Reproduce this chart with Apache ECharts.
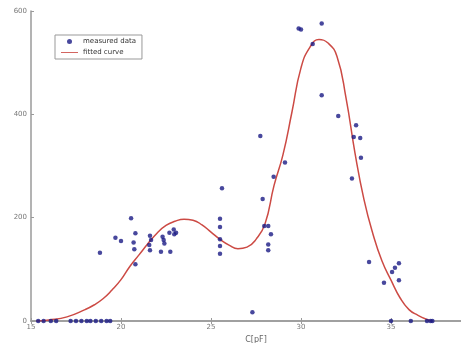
<!DOCTYPE html>
<html>
<head>
<meta charset="utf-8">
<script src="https://cdn.jsdelivr.net/npm/echarts@6/dist/echarts.min.js"></script>
<style>html,body{margin:0;padding:0;background:#fff;}#c{width:461px;height:343px;}</style>
</head>
<body>
<div id="c"></div>
<script>
// measured data
const measuredX = [15.4,15.7,16.1,16.4,17.2,17.5,17.8,18.1,18.3,18.6,18.9,19.2,19.4,
  18.83,19.69,20.0,20.56,20.8,20.7,20.74,20.8,21.61,21.67,21.57,21.61,22.22,22.74,22.31,22.37,22.41,22.69,22.93,23.06,22.96,
  25.5,25.5,25.5,25.5,25.5,25.61,27.3,27.74,27.87,27.96,28.18,28.33,28.18,28.18,28.48,29.11,
  29.87,30.0,31.15,30.65,31.15,32.07,33.06,32.93,33.29,33.33,32.83,
  33.78,35.44,35.22,35.06,34.61,35.44,35.0,36.1,37.0,37.2,37.3];
const measuredY = [0,0,0,0,0,0,0,0,0,0,0,0,0,
  132,161,155,199,170,152,139,110,165,157,147,137,134,134,163,157,150,171,177,171,168,
  198,182,158,145,130,257,17,358,236,184,184,168,148,137,279,307,
  566,564,576,536,437,397,379,356,354,316,276,
  114,112,103,95,74,79,0,0,0,0,0];
// fitted curve
const curveX = [15.3,16,17,18,18.5,19,19.5,20,20.5,21,21.5,22,22.5,23,23.5,24,24.5,25,25.5,26,26.5,27,27.5,28,28.5,29,29.5,30,30.5,31,31.5,32,32.5,33,33.5,34,34.5,35,35.5,36,36.5,37,37.3];
const curveY = [0,2,8,22,31,43,60,80,106,128,150,170,185,193,197,195,186,172,158,147,140,143,158,188,262,322,405,490,530,545,538,512,432,325,235,168,116,79,45,22,11,3,0];
const xTicks = [15,20,25,30,35,40];
const yTicks = [0,200,400,600];

const chart = echarts.init(document.getElementById('c'), null, {renderer:'canvas'});
const axisCol = '#9a9a9a';
const lblStyle = {color:'#777', fontSize:7, fontFamily:'DejaVu Sans'};
chart.setOption({
  animation:false,
  backgroundColor:'#fff',
  grid:{left:31, top:11, width:450, height:310, outerBoundsMode:'none'},
  legend:{
    left:55, top:35, orient:'vertical', itemWidth:17, itemHeight:5, itemGap:4,
    padding:[3,6,3,6], borderColor:'#999', borderWidth:1, backgroundColor:'#fff',
    textStyle:{fontSize:7, color:'#333', fontFamily:'DejaVu Sans'},
    data:[{name:'measured data', icon:'circle'},{name:'fitted curve', icon:'path://M0,0 H40 V2 H0 Z'}]
  },
  xAxis:[{
    type:'value', min:xTicks[0], max:xTicks[xTicks.length-1], interval:5,
    name:'C[pF]', nameLocation:'middle', nameGap:11,
    nameTextStyle:{fontSize:8, color:'#666', fontFamily:'DejaVu Sans'},
    axisLine:{lineStyle:{color:axisCol, width:1.5}},
    axisTick:{inside:true, length:3, lineStyle:{color:axisCol}},
    axisLabel:{...lblStyle, margin:3},
    splitLine:{show:false}
  },{
    type:'value', position:'top', min:xTicks[0], max:xTicks[xTicks.length-1], interval:5,
    axisLine:{show:true, lineStyle:{color:axisCol, width:1.5}},
    axisTick:{inside:true, length:3, lineStyle:{color:axisCol}},
    axisLabel:{show:false}, splitLine:{show:false}
  }],
  yAxis:[{
    type:'value', min:yTicks[0], max:yTicks[yTicks.length-1], interval:200,
    axisLine:{show:true, lineStyle:{color:axisCol, width:1.5}},
    axisTick:{show:true, inside:true, length:3, lineStyle:{color:axisCol}},
    axisLabel:{...lblStyle, margin:4},
    splitLine:{show:false}
  },{
    type:'value', position:'right', min:yTicks[0], max:yTicks[yTicks.length-1], interval:200,
    axisLine:{show:true, lineStyle:{color:axisCol, width:1.5}},
    axisTick:{show:true, inside:true, length:3}, axisLabel:{show:false}, splitLine:{show:false}
  }],
  series:[{
    name:'measured data', type:'scatter', symbol:'circle', symbolSize:4.5,
    itemStyle:{color:'#1a1a84'},
    data: measuredX.map((x,i)=>[x, measuredY[i]]), z:3
  },{
    name:'fitted curve', type:'line', smooth:true, symbol:'none',
    lineStyle:{color:'#cc4a44', width:1.5}, itemStyle:{color:'#cc4a44'},
    data: curveX.map((x,i)=>[x, curveY[i]]), z:2
  }]
});
</script>
</body>
</html>
